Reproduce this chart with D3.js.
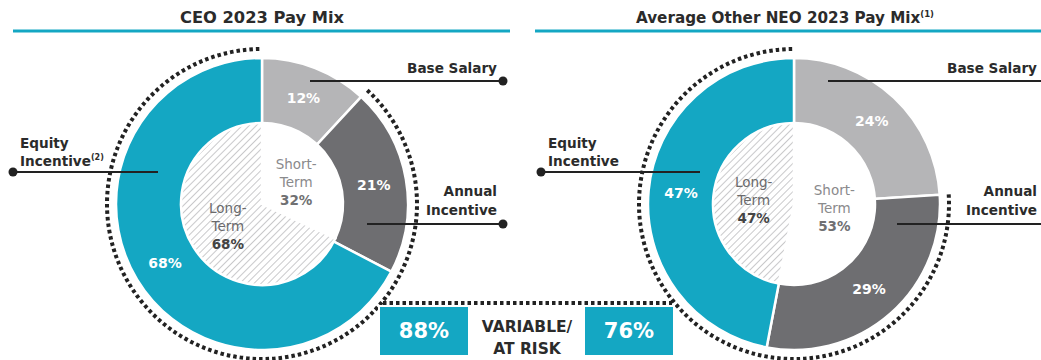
<!DOCTYPE html>
<html>
<head>
<meta charset="utf-8">
<script src="https://cdn.jsdelivr.net/npm/d3@7"></script>
<style>
  html, body { margin: 0; padding: 0; background: #fff; }
  svg { display: block; font-family: "DejaVu Sans", "Open Sans", sans-serif; }
</style>
</head>
<body>
<svg id="chart" width="1041" height="360"></svg>
<script>
// Pay components, clockwise from 12 o'clock
const components = ["Base Salary", "Annual Incentive", "Equity Incentive"];
const ceoMix = [12, 21, 68];
const neoMix = [24, 29, 47];

// Inner split: short-term vs long-term
const terms = ["Short-Term", "Long-Term"];
const ceoTerm = [32, 68];
const neoTerm = [53, 47];

// Variable / at-risk share
const atRisk = [88, 76];

const titles = ["CEO 2023 Pay Mix", "Average Other NEO 2023 Pay Mix"];

const colors = ["#b5b5b7", "#6e6e71", "#14a7c3"];
const teal = "#14a7c3";
const ink = "#222";

const svg = d3.select("#chart");

// diagonal hatch for the long-term wedge
const defs = svg.append("defs");
const pat = defs.append("pattern")
  .attr("id", "hatch").attr("patternUnits", "userSpaceOnUse")
  .attr("width", 5).attr("height", 5)
  .attr("patternTransform", "rotate(45)");
pat.append("rect").attr("width", 5).attr("height", 5).attr("fill", "#fff");
pat.append("line").attr("x1", 0).attr("y1", 0).attr("x2", 0).attr("y2", 5)
  .attr("stroke", "#c9c9cb").attr("stroke-width", 2);

const R = 146, r = 81, dotR = 155;
const cy = 204;

const panels = [
  { cx: 262, mix: ceoMix, term: ceoTerm, title: titles[0], sup: null,
    titleX: 262, titleSize: 16.3, ruleX: [13, 510] },
  { cx: 794, mix: neoMix, term: neoTerm, title: titles[1], sup: "(1)",
    titleX: 785, titleSize: 15.2, ruleX: [535, 1041] }
];

const pie = d3.pie().sort(null).value(d => d);
const outerArc = d3.arc().innerRadius(0).outerRadius(R);
const labelArc = d3.arc().innerRadius(r).outerRadius(R);
const innerArc = d3.arc().innerRadius(0).outerRadius(r);

panels.forEach((p, pi) => {
  // heading and rule
  const t = svg.append("text").attr("x", p.titleX).attr("y", 23)
    .attr("text-anchor", "middle").attr("font-weight", 700)
    .attr("font-size", p.titleSize).attr("fill", "#2b2b2b").text(p.title);
  if (p.sup) t.append("tspan").attr("font-size", 8.5).attr("dy", -6).text(p.sup);
  svg.append("line").attr("x1", p.ruleX[0]).attr("x2", p.ruleX[1])
    .attr("y1", 31).attr("y2", 31).attr("stroke", teal).attr("stroke-width", 3);

  const g = svg.append("g").attr("transform", `translate(${p.cx},${cy})`);
  const arcs = pie(p.mix);

  g.selectAll("path.outer").data(arcs).join("path")
    .attr("class", "outer").attr("d", outerArc)
    .attr("fill", (d, i) => colors[i])
    .attr("stroke", "#fff").attr("stroke-width", 2.5);

  const inner = pie(p.term);
  g.selectAll("path.inner").data(inner).join("path")
    .attr("class", "inner").attr("d", innerArc)
    .attr("fill", (d, i) => i === 0 ? "#fff" : "url(#hatch)")
    .attr("stroke", "#fff").attr("stroke-width", 2.5);

  // percent labels on the ring
  g.selectAll("text.pct").data(arcs).join("text")
    .attr("class", "pct")
    .attr("transform", d => `translate(${labelArc.centroid(d)})`)
    .attr("text-anchor", "middle").attr("dy", "0.35em")
    .attr("fill", "#fff").attr("font-weight", 700).attr("font-size", 14)
    .text(d => d.data + "%");

  // inner labels
  inner.forEach((d, i) => {
    const [x, y] = innerArc.centroid(d);
    const lines = terms[i].split("-");
    const tx = g.append("text").attr("text-anchor", "middle")
      .attr("font-size", 13.5).attr("fill", i === 0 ? "#8a8a8c" : "#6a6a6c");
    tx.append("tspan").attr("x", x).attr("y", y - 13).text(lines[0] + "-");
    tx.append("tspan").attr("x", x).attr("y", y + 5).text(lines[1]);
    tx.append("tspan").attr("x", x).attr("y", y + 23)
      .attr("font-weight", 700).attr("fill", i === 0 ? "#707072" : "#444")
      .text(d.data + "%");
  });

  // dotted arc around the variable portion
  const total = d3.sum(p.mix);
  const a0 = p.mix[0] / total * 2 * Math.PI;
  const path = d3.path();
  path.arc(0, 0, dotR, a0 - Math.PI / 2, 2 * Math.PI - Math.PI / 2);
  g.append("path").attr("d", path.toString())
    .attr("fill", "none").attr("stroke", ink)
    .attr("stroke-width", 4).attr("stroke-dasharray", "3.5 3");
});

// leader lines with end dots
const leaders = [
  { x1: 310, x2: 503, y: 81, dot: 503, text: [components[0]], tx: 497, ty: [73], anchor: "end" },
  { x1: 367, x2: 503, y: 224, dot: 503, text: ["Annual", "Incentive"], tx: 497, ty: [196, 215], anchor: "end" },
  { x1: 13, x2: 158, y: 172, dot: 13, text: ["Equity", "Incentive"], tx: 20, ty: [148, 166], anchor: "start", sup: "(2)" },
  { x1: 828, x2: 1041, y: 81, dot: null, text: [components[0]], tx: 1037, ty: [73], anchor: "end" },
  { x1: 897, x2: 1041, y: 224, dot: null, text: ["Annual", "Incentive"], tx: 1037, ty: [196, 215], anchor: "end" },
  { x1: 541, x2: 700, y: 172, dot: 541, text: ["Equity", "Incentive"], tx: 548, ty: [148, 166], anchor: "start" }
];
leaders.forEach(l => {
  svg.append("line").attr("x1", l.x1).attr("x2", l.x2).attr("y1", l.y).attr("y2", l.y)
    .attr("stroke", ink).attr("stroke-width", 2);
  if (l.dot !== null) svg.append("circle").attr("cx", l.dot).attr("cy", l.y).attr("r", 4.5).attr("fill", ink);
  l.text.forEach((s, i) => {
    const t = svg.append("text").attr("x", l.tx).attr("y", l.ty[i])
      .attr("text-anchor", l.anchor).attr("font-weight", 700)
      .attr("font-size", 13.6).attr("fill", "#2b2b2b").text(s);
    if (l.sup && i === l.text.length - 1)
      t.append("tspan").attr("font-size", 8).attr("dy", -6).text(l.sup);
  });
});

// connector between the two dotted arcs
svg.append("line").attr("x1", 383).attr("x2", 672).attr("y1", 303).attr("y2", 303)
  .attr("stroke", ink).attr("stroke-width", 4).attr("stroke-dasharray", "3.5 3");

// variable / at-risk boxes
const boxes = [{ x: 379, w: 90 }, { x: 584, w: 90 }];
boxes.forEach((b, i) => {
  svg.append("rect").attr("x", b.x).attr("y", 306).attr("width", b.w).attr("height", 50)
    .attr("fill", teal).attr("stroke", "#fff").attr("stroke-width", 2);
  svg.append("text").attr("x", b.x + b.w / 2).attr("y", 331).attr("dy", "0.35em")
    .attr("text-anchor", "middle").attr("fill", "#fff").attr("font-weight", 700)
    .attr("font-size", 21).text(atRisk[i] + "%");
});
const vt = svg.append("text").attr("text-anchor", "middle").attr("font-weight", 700)
  .attr("font-size", 15.5).attr("fill", "#2b2b2b");
vt.append("tspan").attr("x", 527).attr("y", 332).text("VARIABLE/");
vt.append("tspan").attr("x", 527).attr("y", 354).text("AT RISK");
</script>
</body>
</html>
